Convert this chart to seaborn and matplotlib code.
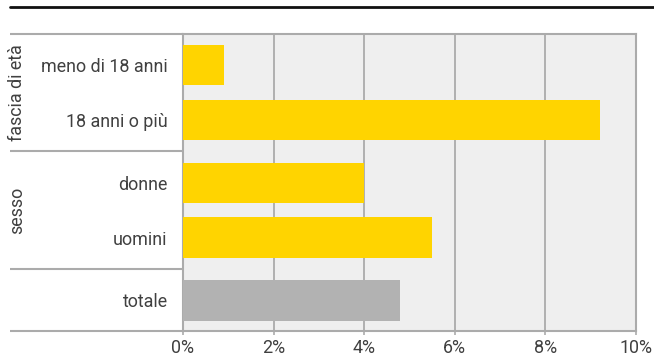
import matplotlib
matplotlib.use("Agg")
import matplotlib.pyplot as plt
import matplotlib.transforms as mtransforms
import numpy as np
import pandas as pd
import seaborn as sns

# --- data -------------------------------------------------------------
gruppi = ["fascia di età", "fascia di età", "sesso", "sesso", ""]
categorie = ["meno di 18 anni", "18 anni o più", "donne", "uomini", "totale"]
valori = [0.9, 9.2, 4.0, 5.5, 4.8]
tipo = ["dettaglio", "dettaglio", "dettaglio", "dettaglio", "totale"]
tick_valori = [0, 2, 4, 6, 8, 10]
tick_etichette = ["0%", "2%", "4%", "6%", "8%", "10%"]

# --- layout: rows inside a group are 1 apart, groups get an extra gap --
GAP = 0.145
pos = []
y = 0.0
for i, g in enumerate(gruppi):
    if i > 0:
        y += 1.0 + (GAP if g != gruppi[i - 1] else 0.0)
    pos.append(round(y, 4))

df = pd.DataFrame({"gruppo": gruppi, "categoria": categorie,
                   "valore": valori, "tipo": tipo, "pos": pos})

GIALLO = "#FFD400"
GRIGIO = "#B2B2B2"
SFONDO = "#EFEFEF"
LINEA = "#ABABAB"
TESTO = "#404040"
FS = 12.9

sns.set_theme(style="white")
plt.rcParams["font.family"] = ["Roboto", "DejaVu Sans"]

W, H = 654, 356
fig = plt.figure(figsize=(W / 100, H / 100), dpi=100)
ax_l, ax_r, ax_t, ax_b = 183, 636, 34, 331
ax = fig.add_axes([ax_l / W, 1 - ax_b / H, (ax_r - ax_l) / W, (ax_b - ax_t) / H])
ax.set_facecolor(SFONDO)

sns.barplot(data=df, x="valore", y="pos", hue="tipo", orient="y",
            native_scale=True, palette={"dettaglio": GIALLO, "totale": GRIGIO},
            saturation=1, width=0.736, legend=False, ax=ax, zorder=3,
            linewidth=0, edgecolor="none")

# axes ranges (rows 55 px apart)
top_pad = (65.3 - ax_t) / 55
bot_pad = (ax_b - 300.3) / 55
ax.set_ylim(pos[-1] + bot_pad, -top_pad)
ax.set_xlim(0, 10)

ax.set_xticks(tick_valori)
ax.set_xticklabels(tick_etichette)
ax.set_yticks(pos)
ax.set_yticklabels(categorie)
ax.set_xlabel("")
ax.set_ylabel("")

ax.grid(axis="x", color=LINEA, linewidth=1.3, zorder=1)
ax.grid(axis="y", visible=False)
ax.set_axisbelow(True)
for s in ax.spines.values():
    s.set_visible(True)
    s.set_color(LINEA)
    s.set_linewidth(1.5)

ax.tick_params(axis="x", bottom=True, length=3, width=1.2, color=LINEA,
               labelsize=FS, labelcolor=TESTO, pad=3)
ax.tick_params(axis="y", left=False, length=0, labelsize=FS,
               labelcolor=TESTO, pad=11)

# group separators and rotated group titles in the label column
trans = mtransforms.blended_transform_factory(fig.transFigure, ax.transData)
x0 = 10 / W
x1 = ax_l / W
edges = [-top_pad]
for i in range(1, len(gruppi)):
    if gruppi[i] != gruppi[i - 1]:
        edges.append((pos[i - 1] + pos[i]) / 2)
edges.append(pos[-1] + bot_pad)
for e in edges:
    ax.plot([x0, x1], [e, e], transform=trans, color=LINEA, lw=1.5,
            clip_on=False, solid_capstyle="butt")

for g in dict.fromkeys(gruppi):
    if not g:
        continue
    idx = [i for i, gg in enumerate(gruppi) if gg == g]
    lo = max(e for e in edges if e < pos[idx[0]])
    hi = min(e for e in edges if e > pos[idx[-1]])
    ax.text(17 / W, (lo + hi) / 2, g, transform=trans, rotation=90,
            ha="center", va="center", fontsize=FS, color=TESTO)

# rule across the top of the figure
fig.add_artist(plt.Line2D([10 / W, 1], [1 - 7 / H, 1 - 7 / H],
                          color="#111111", lw=2, transform=fig.transFigure))

fig.savefig("out.png", dpi=100, facecolor="white")
